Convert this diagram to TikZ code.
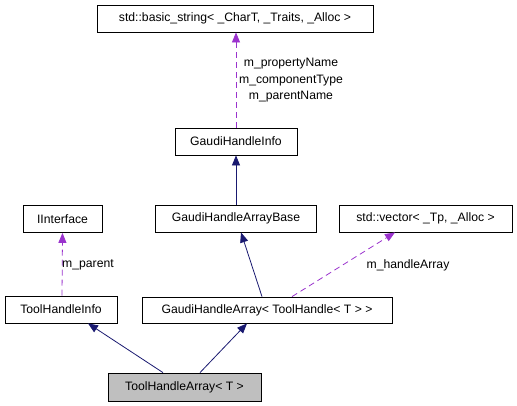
\documentclass[tikz,border=0pt]{standalone}
\usepackage{fontspec}
\setmainfont{Liberation Sans}
\usepackage{tikz}
\usetikzlibrary{arrows.meta, positioning}
\definecolor{dxnavy}{HTML}{191970}
\definecolor{dxpurple}{HTML}{9A32CD}
\definecolor{dxgray}{HTML}{BFBFBF}

\begin{document}
\begin{tikzpicture}[
    x=1pt, y=-1pt,
    cls/.style={draw=black, line width=0.8pt, rectangle, inner sep=0pt, minimum height=27pt, font=\fontsize{12.2}{14}\selectfont},
    edgelabel/.style={font=\fontsize{12.2}{16.5}\selectfont, inner sep=0pt},
    inherit/.style={-{Triangle[length=10pt, width=8pt]}, line width=0.8pt, color=dxnavy},
    usage/.style={-{Triangle[length=10pt, width=8pt]}, line width=0.8pt, color=dxpurple, dash pattern=on 6pt off 4pt}
]
\useasboundingbox (0,0) rectangle (517,405);

% Classes
\node[cls, minimum width=276pt] (str) at (235,18.5) {std::basic\_string< \_CharT, \_Traits, \_Alloc >};
\node[cls, minimum width=122pt] (ghinfo) at (236,141.5) {GaudiHandleInfo};
\node[cls, minimum width=79pt] (iface) at (62.5,219) {IInterface};
\node[cls, minimum width=161pt] (ghbase) at (236,218.5) {GaudiHandleArrayBase};
\node[cls, minimum width=173pt] (vec) at (425.5,218.5) {std::vector< \_Tp, \_Alloc >};
\node[cls, minimum width=112pt] (thinfo) at (61,309.5) {ToolHandleInfo};
\node[cls, minimum width=250pt, minimum height=26pt] (gharr) at (267,310) {GaudiHandleArray< ToolHandle< T > >};
\node[cls, minimum width=153pt, minimum height=28pt, fill=dxgray] (tharr) at (184.5,387) {ToolHandleArray< T >};

% Inheritance
\draw[inherit] (ghbase.north) -- (ghinfo.south);
\draw[inherit] ([xshift=-5pt]gharr.north) -- ([xshift=5pt]ghbase.south);
\draw[inherit] ([xshift=-21.5pt]tharr.north) -- ([xshift=27pt]thinfo.south);
\draw[inherit] ([xshift=15.5pt]tharr.north) -- ([xshift=-20pt]gharr.south);

% Members
\draw[usage] (ghinfo.north) -- ([xshift=1pt]str.south);
\draw[usage] ([xshift=1pt]thinfo.north) -- (iface.south);
\draw[usage] ([xshift=25pt]gharr.north) -- ([xshift=-30.5pt]vec.south);

% Member labels
\node[edgelabel, align=center] (lstr) at (291,80.5) {m\_propertyName\\m\_componentType\\m\_parentName};
\node[edgelabel, anchor=west] (lpar) at (62,265) {m\_parent};
\node[edgelabel] (larr) at (408,265) {m\_handleArray};

\end{tikzpicture}
\end{document}
